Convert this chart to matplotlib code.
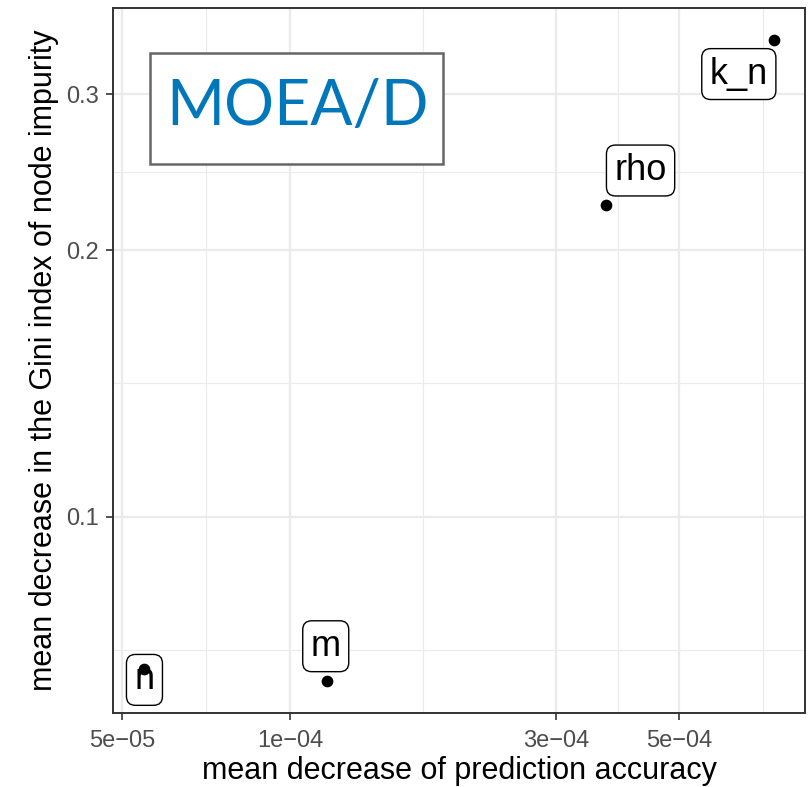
import matplotlib
matplotlib.use("Agg")
import matplotlib.pyplot as plt
import numpy as np
from matplotlib.ticker import FixedLocator, NullFormatter
from matplotlib.patches import Rectangle

plt.rcParams['font.family'] = ['Liberation Sans', 'DejaVu Sans']

variables = ["n", "m", "rho", "k_n"]
accuracy_decrease = [5.48e-5, 1.166e-4, 3.69e-4, 7.38e-4]
gini_decrease = [0.0673, 0.0652, 0.2248, 0.3455]

x_ticks = [5e-5, 1e-4, 3e-4, 5e-4]
x_tick_labels = ["5e\u221205", "1e\u221204", "3e\u221204", "5e\u221204"]
y_ticks = [0.1, 0.2, 0.3]
y_tick_labels = ["0.1", "0.2", "0.3"]

label_offsets = {"n": (0, -8), "m": (-1, 25), "rho": (25, 25), "k_n": (-25, -24.5)}

fig = plt.figure(figsize=(8.12, 7.87), dpi=100)
ax = fig.add_axes([113/812, 1-713/787, (805-113)/812, (713-8)/787])
ax.set_xscale('log')
ax.set_yscale('log')

lx = np.log10(accuracy_decrease)
ly = np.log10(gini_decrease)
ex = 0.05*(lx.max()-lx.min())
ey = 0.05*(ly.max()-ly.min())
ax.set_xlim(10**(lx.min()-ex), 10**(lx.max()+ex))
ax.set_ylim(10**(ly.min()-ey), 10**(ly.max()+ey))

lxt = np.log10(x_ticks)
bd = lxt[1]-lxt[0]
xb = np.concatenate([lxt, [lxt[-1]+bd]])
x_minor = 10**((xb[:-1]+xb[1:])/2)
lyt = np.log10(y_ticks)
bdy = lyt[1]-lyt[0]
yb = np.concatenate([[lyt[0]-bdy], lyt])
y_minor = 10**((yb[:-1]+yb[1:])/2)

ax.xaxis.set_major_locator(FixedLocator(x_ticks))
ax.set_xticklabels(x_tick_labels)
ax.xaxis.set_minor_locator(FixedLocator(x_minor))
ax.xaxis.set_minor_formatter(NullFormatter())
ax.yaxis.set_major_locator(FixedLocator(y_ticks))
ax.set_yticklabels(y_tick_labels)
ax.yaxis.set_minor_locator(FixedLocator(y_minor))
ax.yaxis.set_minor_formatter(NullFormatter())

ax.grid(which='major', color='#EBEBEB', linewidth=1.6)
ax.grid(which='minor', color='#EBEBEB', linewidth=0.8)
ax.set_axisbelow(True)
ax.tick_params(which='major', length=5, width=1.2, color='#333333',
               labelsize=17, labelcolor='#4D4D4D')
ax.tick_params(axis='x', which='major', pad=7)
ax.tick_params(axis='y', which='major', pad=5)
ax.tick_params(which='minor', length=0)
for s in ax.spines.values():
    s.set_color('#333333')
    s.set_linewidth(1.4)

for v, xv, yv in zip(variables, accuracy_decrease, gini_decrease):
    ax.annotate(v, (xv, yv), xytext=label_offsets[v], textcoords='offset points',
                ha='center', va='center', fontsize=26, color='black', zorder=3,
                bbox=dict(boxstyle='round,pad=0.22,rounding_size=0.25', fc='white',
                          ec='black', lw=1.0))

ax.scatter(accuracy_decrease, gini_decrease, s=55, color='black', zorder=5)

ax.add_patch(Rectangle((0.0535, 0.7787), 0.4234, 0.1574, transform=ax.transAxes,
                       fc='white', ec='#666666', lw=1.8, zorder=4))
ax.text(0.266, 0.8596, "MOEA/D", transform=ax.transAxes, ha='center', va='center',
        fontsize=45, color='#0077BB', family=['Lato', 'DejaVu Sans'], fontweight='normal',
        zorder=6)

ax.set_xlabel("mean decrease of prediction accuracy", fontsize=22, labelpad=3)
ax.set_ylabel("mean decrease in the Gini index of node impurity", fontsize=22, labelpad=5)

fig.savefig("out.png", dpi=100)
